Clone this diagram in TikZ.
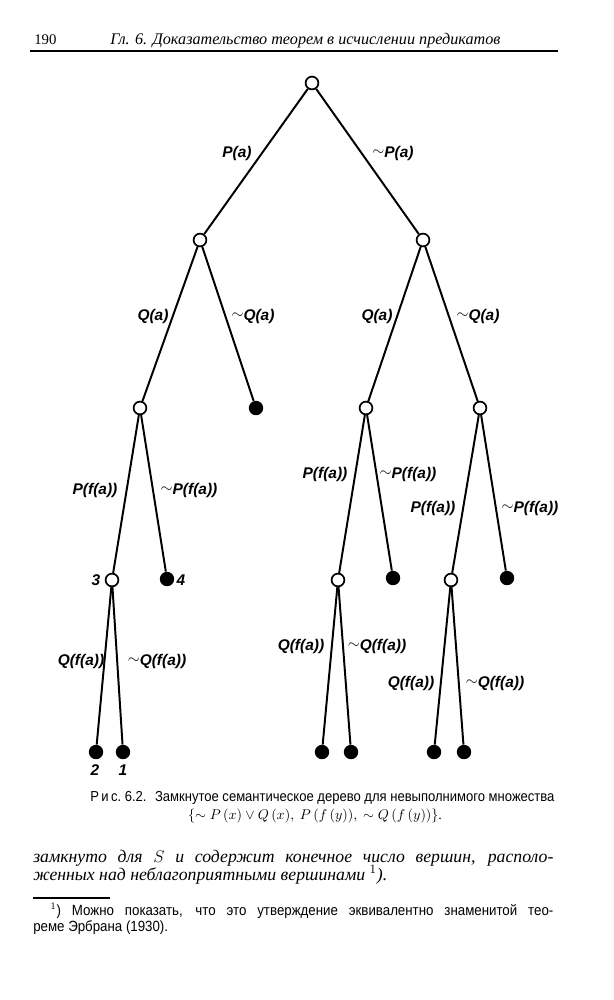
\documentclass[tikz,border=0pt]{standalone}
\usepackage{fontspec}
\usepackage{amsmath,amssymb}
\setmainfont{Liberation Serif}
\newfontfamily\lblfont{Liberation Sans}
\newfontfamily\capfont[FakeStretch=0.9]{Liberation Sans}
\newcommand{\negsign}{{\raisebox{0.15ex}{$\sim$}}}

\begin{document}
\begin{tikzpicture}[x=0.025cm,y=-0.025cm,
  open/.style={circle, draw, line width=1.2pt, fill=white, inner sep=0pt, minimum size=0.32cm},
  shut/.style={circle, fill=black, inner sep=0pt, minimum size=0.36cm},
  edge/.style={line width=1.4pt},
  lbl/.style={font=\lblfont\bfseries\itshape\fontsize{11}{13}\selectfont, inner sep=0pt},
  num/.style={font=\lblfont\bfseries\itshape\fontsize{11}{13}\selectfont, inner sep=0pt}]
\useasboundingbox (0,0) rectangle (613,1000);

% Header
\node[anchor=base west, inner sep=0pt, font=\fontsize{10.5}{12}\selectfont] (page) at (34,44) {190};
\node[anchor=base west, inner sep=0pt, font=\fontsize{11.5}{13}\selectfont\itshape] (head) at (110,44)
  {Гл. 6. Доказательство теорем в исчислении предикатов};
\draw[line width=1pt] (30,51) -- (558,51);

% Tree vertices
\node[open] (v0) at (312,83) {};
\node[open] (v1) at (200,240) {};
\node[open] (v2) at (423,240) {};
\node[open] (v11) at (140,408) {};
\node[shut] (v12) at (256,408) {};
\node[open] (v21) at (366,408) {};
\node[open] (v22) at (480,408) {};
\node[open] (v111) at (112,580) {};
\node[shut] (v112) at (167,579) {};
\node[open] (v211) at (338,580) {};
\node[shut] (v212) at (393,578) {};
\node[open] (v221) at (451,580) {};
\node[shut] (v222) at (507,578) {};
\node[shut] (v1111) at (96,752) {};
\node[shut] (v1112) at (123,752) {};
\node[shut] (v2111) at (322,752) {};
\node[shut] (v2112) at (351,752) {};
\node[shut] (v2211) at (434,752) {};
\node[shut] (v2212) at (464,752) {};

% Edges
\draw[edge] (v0) -- (v1);
\draw[edge] (v0) -- (v2);
\draw[edge] (v1) -- (v11);
\draw[edge] (v1) -- (v12);
\draw[edge] (v2) -- (v21);
\draw[edge] (v2) -- (v22);
\draw[edge] (v11) -- (v111);
\draw[edge] (v11) -- (v112);
\draw[edge] (v21) -- (v211);
\draw[edge] (v21) -- (v212);
\draw[edge] (v22) -- (v221);
\draw[edge] (v22) -- (v222);
\draw[edge] (v111) -- (v1111);
\draw[edge] (v111) -- (v1112);
\draw[edge] (v211) -- (v2111);
\draw[edge] (v211) -- (v2112);
\draw[edge] (v221) -- (v2211);
\draw[edge] (v221) -- (v2212);

% Edge labels
\node[lbl] (l1) at (237,153) {P(a)};
\node[lbl] (l2) at (393,153) {\negsign P(a)};
\node[lbl] (l11) at (153,316) {Q(a)};
\node[lbl] (l12) at (253,316) {\negsign Q(a)};
\node[lbl] (l21) at (377,316) {Q(a)};
\node[lbl] (l22) at (478,316) {\negsign Q(a)};
\node[lbl] (l111) at (95,490) {P(f(a))};
\node[lbl] (l112) at (189,490) {\negsign P(f(a))};
\node[lbl] (l211) at (325,474) {P(f(a))};
\node[lbl] (l212) at (408,474) {\negsign P(f(a))};
\node[lbl] (l221) at (433,508) {P(f(a))};
\node[lbl] (l222) at (530,508) {\negsign P(f(a))};
\node[lbl] (l1111) at (81,661) {Q(f(a))};
\node[lbl] (l1112) at (157,661) {\negsign Q(f(a))};
\node[lbl] (l2111) at (301,646) {Q(f(a))};
\node[lbl] (l2112) at (377,646) {\negsign Q(f(a))};
\node[lbl] (l2211) at (411,683) {Q(f(a))};
\node[lbl] (l2212) at (495,683) {\negsign Q(f(a))};

% Vertex numbers
\node[num] (n3) at (96,580) {3};
\node[num] (n4) at (181,580) {4};
\node[num] (n2) at (95,770) {2};
\node[num] (n1) at (123,770) {1};

% Caption
\node[anchor=base west, inner sep=0pt, font=\capfont\fontsize{10.3}{12}\selectfont] (cap1) at (90,801)
  {Р\,и\,с.\ 6.2. \ Замкнутое семантическое дерево для невыполнимого множества};
\node[anchor=base, inner sep=0pt, font=\fontsize{10}{12}\selectfont] (cap2) at (315,819)
  {$\{\sim P\,(x) \vee Q\,(x),\ P\,(f\,(y)),\ \sim Q\,(f\,(y))\}$.};

% Body text
\node[anchor=base west, inner sep=0pt, font=\fontsize{12.6}{15}\selectfont\itshape] (txt1) at (33,862)
  {\makebox[13cm][s]{замкнуто для $S$ и содержит конечное число вершин, располо-}};
\node[anchor=base west, inner sep=0pt, font=\fontsize{12.6}{15}\selectfont\itshape] (txt2) at (33,880)
  {женных над неблагоприятными вершинами $^1$).};
\draw[line width=0.8pt] (33,898) -- (110,898);

% Footnote
\node[anchor=base west, inner sep=0pt, font=\capfont\fontsize{10.5}{12}\selectfont] (fn1) at (50,915)
  {\makebox[12.575cm][s]{$^1$) Можно показать, что это утверждение эквивалентно знаменитой тео-}};
\node[anchor=base west, inner sep=0pt, font=\capfont\fontsize{10.5}{12}\selectfont] (fn2) at (33,931)
  {реме Эрбрана (1930).};
\end{tikzpicture}
\end{document}
